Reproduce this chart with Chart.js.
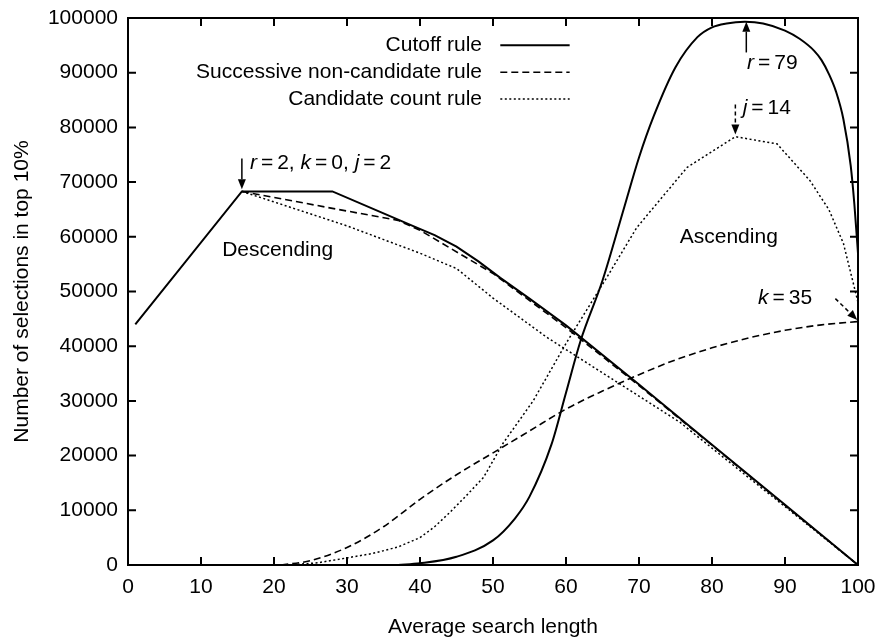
<!DOCTYPE html>
<html>
<head>
<meta charset="utf-8">
<script src="https://cdn.jsdelivr.net/npm/chart.js@4.4.1/dist/chart.umd.min.js"></script>
<style>
  html, body { margin: 0; padding: 0; background: #fff; }
  #wrap { width: 878px; height: 642px; }
</style>
</head>
<body>
<div id="wrap"><canvas id="chart"></canvas></div>
<script>
// Cutoff rule
const cutoffDescX = [1, 15.6, 28, 39, 42, 45, 48, 51, 55, 60, 70, 80, 90, 100];
const cutoffDescY = [44000, 68300, 68300, 62000, 60300, 58200, 55500, 52500, 48700, 43800, 33000, 22000, 11000, 0];
const cutoffAscX = [37, 40, 45, 50, 53, 55, 58, 60, 62, 65, 68, 70, 72, 75, 78, 80, 82, 84.5, 87, 90, 92, 94, 95, 96, 97, 98, 99, 99.5, 100];
const cutoffAscY = [0, 300, 1500, 4500, 8500, 12500, 22000, 31500, 41000, 52000, 65500, 74500, 82000, 91000, 96500, 98300, 99000, 99300, 99000, 97700, 96200, 94000, 92300, 89800, 86500, 81500, 73000, 66000, 57000];

// Successive non-candidate rule
const succDescX = [15.6, 28, 37, 40, 50, 60, 70, 80, 90, 100];
const succDescY = [68300, 65200, 63000, 61200, 53300, 43400, 32800, 21900, 10900, 0];
const succAscX = [21, 25, 30, 35, 40, 45, 50, 55, 60, 65, 70, 75, 80, 85, 90, 95, 100];
const succAscY = [0, 800, 3200, 7000, 12000, 16500, 20500, 24500, 28500, 31800, 34800, 37500, 39700, 41500, 42900, 43900, 44500];

// Candidate count rule
const candDescX = [15.6, 30, 40, 45, 50, 57.4, 75.6, 85, 100];
const candDescY = [68300, 62000, 57000, 54200, 48800, 41600, 26100, 16000, 0];
const candAscX = [22, 26, 30, 33.5, 37, 40, 42, 44, 46, 48.7, 51.4, 55.5, 60, 65.6, 69.7, 76.6, 83.2, 88.9, 93.4, 96, 98, 99.6, 100];
const candAscY = [0, 400, 1300, 2100, 3300, 5000, 7000, 9500, 12200, 16000, 22300, 30000, 40500, 52600, 61700, 72700, 78300, 77000, 70300, 65000, 58800, 50200, 48000];

const legendLabels = ['Cutoff rule', 'Successive non-candidate rule', 'Candidate count rule'];
const xTicks = [0, 10, 20, 30, 40, 50, 60, 70, 80, 90, 100];
const yTicks = [0, 10000, 20000, 30000, 40000, 50000, 60000, 70000, 80000, 90000, 100000];

const FONT = '"Liberation Sans", Arial, Helvetica, sans-serif';
const SOLID = [];
const DASHED = [7, 4];
const DOTTED = [2, 2.5];

function pairs(xs, ys) {
    return xs.map((x, i) => ({ x: x, y: ys[i] }));
}

function lineSet(label, xs, ys, dash, width, smooth) {
    const ds = {
        label: label,
        data: pairs(xs, ys),
        borderColor: '#000',
        borderWidth: width,
        borderDash: dash,
        pointRadius: 0,
        tension: 0,
        fill: false
    };
    if (smooth) ds.cubicInterpolationMode = 'monotone';
    return ds;
}

// annotations: text pieces (italic flag) and arrows, positioned in data units
const notes = [
    { x: 16.7, y: 73400, parts: [['r', 1], ['=', 0], ['2, ', 0], ['k', 1], ['=', 0], ['0, ', 0], ['j', 1], ['=', 0], ['2', 0]] },
    { x: 84.8, y: 91800, parts: [['r', 1], ['=', 0], ['79', 0]] },
    { x: 84.2, y: 83600, parts: [['j', 1], ['=', 0], ['14', 0]] },
    { x: 86.3, y: 48700, parts: [['k', 1], ['=', 0], ['35', 0]] },
    { x: 20.5, y: 57500, center: true, parts: [['Descending', 0]] },
    { x: 82.3, y: 59900, center: true, parts: [['Ascending', 0]] }
];
const arrows = [
    { from: [15.6, 74300], to: [15.6, 68700], dash: SOLID },
    { from: [84.7, 93700], to: [84.7, 99300], dash: SOLID },
    { from: [83.2, 84200], to: [83.2, 78700], dash: [4, 3] },
    { from: [96.9, 48700], to: [99.9, 44800], dash: [4, 3] }
];

function drawParts(ctx, x, y, parts, center) {
    const gap = 4;
    const widths = parts.map(p => {
        ctx.font = (p[1] ? 'italic ' : '') + '21px ' + FONT;
        let w = ctx.measureText(p[0]).width;
        if (p[0] === '=') w += 2 * gap;
        return w;
    });
    let total = widths.reduce((a, b) => a + b, 0);
    let cx = center ? x - total / 2 : x;
    ctx.textBaseline = 'middle';
    ctx.textAlign = 'left';
    parts.forEach((p, i) => {
        ctx.font = (p[1] ? 'italic ' : '') + '21px ' + FONT;
        ctx.fillText(p[0], p[0] === '=' ? cx + gap : cx, y);
        cx += widths[i];
    });
}

function drawArrow(ctx, x1, y1, x2, y2, dash) {
    const ang = Math.atan2(y2 - y1, x2 - x1);
    const len = 10, half = 4;
    const bx = x2 - len * Math.cos(ang), by = y2 - len * Math.sin(ang);
    ctx.save();
    ctx.strokeStyle = '#000';
    ctx.fillStyle = '#000';
    ctx.lineWidth = 1.5;
    ctx.setLineDash(dash);
    ctx.beginPath();
    ctx.moveTo(x1, y1);
    ctx.lineTo(bx, by);
    ctx.stroke();
    ctx.setLineDash([]);
    ctx.beginPath();
    ctx.moveTo(x2, y2);
    ctx.lineTo(bx + half * Math.sin(ang), by - half * Math.cos(ang));
    ctx.lineTo(bx - half * Math.sin(ang), by + half * Math.cos(ang));
    ctx.closePath();
    ctx.fill();
    ctx.restore();
}

// frame with inward ticks on all four sides, legend and labels
const gnuplotFrame = {
    id: 'gnuplotFrame',
    afterDraw(chart) {
        const ctx = chart.ctx;
        const xs = chart.scales.x, ys = chart.scales.y;
        const a = chart.chartArea;
        const tl = 8;
        ctx.save();
        ctx.strokeStyle = '#000';
        ctx.lineWidth = 2;
        ctx.strokeRect(a.left, a.top, a.right - a.left, a.bottom - a.top);
        ctx.beginPath();
        xTicks.forEach(v => {
            const px = xs.getPixelForValue(v);
            ctx.moveTo(px, a.bottom); ctx.lineTo(px, a.bottom - tl);
            ctx.moveTo(px, a.top); ctx.lineTo(px, a.top + tl);
        });
        yTicks.forEach(v => {
            const py = ys.getPixelForValue(v);
            ctx.moveTo(a.left, py); ctx.lineTo(a.left + tl, py);
            ctx.moveTo(a.right, py); ctx.lineTo(a.right - tl, py);
        });
        ctx.stroke();

        // legend
        ctx.fillStyle = '#000';
        const dashes = [SOLID, DASHED, DOTTED];
        const widths = [2, 1.5, 1.5];
        const textRight = xs.getPixelForValue(48.5);
        const s0 = xs.getPixelForValue(51), s1 = xs.getPixelForValue(60.5);
        [95000, 90100, 85200].forEach((yv, i) => {
            const py = ys.getPixelForValue(yv);
            ctx.font = '21px ' + FONT;
            ctx.textAlign = 'right';
            ctx.textBaseline = 'middle';
            ctx.fillText(legendLabels[i], textRight, py);
            ctx.lineWidth = widths[i];
            ctx.setLineDash(dashes[i]);
            ctx.beginPath();
            ctx.moveTo(s0, py); ctx.lineTo(s1, py);
            ctx.stroke();
        });
        ctx.setLineDash([]);

        notes.forEach(n => {
            drawParts(ctx, xs.getPixelForValue(n.x), ys.getPixelForValue(n.y), n.parts, n.center);
        });
        arrows.forEach(ar => {
            drawArrow(ctx,
                xs.getPixelForValue(ar.from[0]), ys.getPixelForValue(ar.from[1]),
                xs.getPixelForValue(ar.to[0]), ys.getPixelForValue(ar.to[1]), ar.dash);
        });
        ctx.restore();
    }
};

const chart = new Chart(document.getElementById('chart'), {
    type: 'line',
    data: {
        datasets: [
            lineSet(legendLabels[0], cutoffDescX, cutoffDescY, SOLID, 2, false),
            lineSet(legendLabels[0], cutoffAscX, cutoffAscY, SOLID, 2, true),
            lineSet(legendLabels[1], succDescX, succDescY, DASHED, 1.6, false),
            lineSet(legendLabels[1], succAscX, succAscY, DASHED, 1.6, true),
            lineSet(legendLabels[2], candDescX, candDescY, DOTTED, 1.5, false),
            lineSet(legendLabels[2], candAscX, candAscY, DOTTED, 1.5, false)
        ]
    },
    options: {
        responsive: true,
        maintainAspectRatio: false,
        animation: false,
        layout: { padding: { left: 0, right: 20, top: 18, bottom: 0 } },
        plugins: {
            legend: { display: false },
            tooltip: { enabled: false }
        },
        scales: {
            x: {
                type: 'linear',
                min: 0,
                max: 100,
                afterFit: (scale) => {
                    scale.height = 77;
                    scale.paddingLeft = 0;
                    scale.paddingRight = 0;
                },
                grid: { display: false, drawTicks: false },
                border: { display: false },
                ticks: {
                    stepSize: 10,
                    padding: 10,
                    color: '#000',
                    font: { family: FONT, size: 21 },
                    maxRotation: 0,
                    callback: (v) => String(v)
                },
                title: {
                    display: true,
                    text: 'Average search length',
                    color: '#000',
                    font: { family: FONT, size: 21 },
                    padding: { top: 0, bottom: 2 }
                }
            },
            y: {
                type: 'linear',
                min: 0,
                max: 100000,
                afterFit: (scale) => {
                    scale.width = 128;
                    scale.paddingTop = 0;
                    scale.paddingBottom = 0;
                },
                grid: { display: false, drawTicks: false },
                border: { display: false },
                ticks: {
                    stepSize: 10000,
                    padding: 10,
                    color: '#000',
                    font: { family: FONT, size: 21 },
                    callback: (v) => String(v)
                },
                title: {
                    display: true,
                    text: 'Number of selections in top 10%',
                    color: '#000',
                    font: { family: FONT, size: 21 },
                    padding: { top: 10, bottom: 0 }
                }
            }
        }
    },
    plugins: [gnuplotFrame]
});
</script>
</body>
</html>
